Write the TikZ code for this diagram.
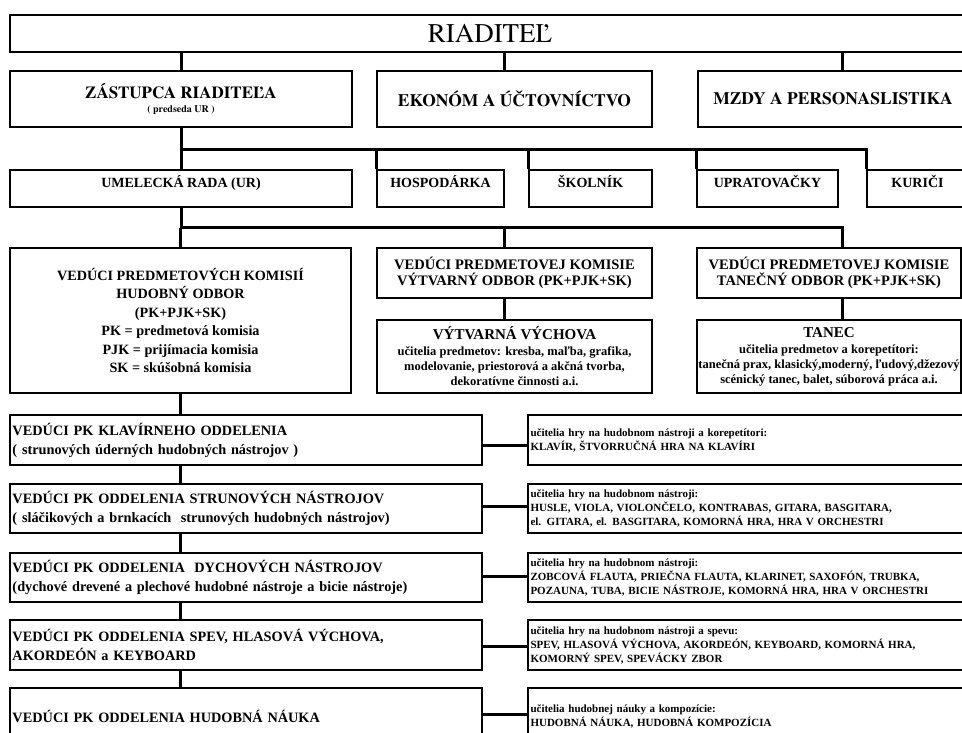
\documentclass[tikz,border=0pt]{standalone}
\usepackage{fontspec}
\setmainfont{Liberation Serif}
\newfontfamily\termes{texgyretermes}[Extension=.otf,UprightFont=*-regular,BoldFont=*-bold,ItalicFont=*-italic,BoldItalicFont=*-bolditalic]
\usetikzlibrary{calc}
\newcommand\szMid{\fontsize{14.2}{18.5}\selectfont}
\newcommand\szRow{\fontsize{14.3}{19}\selectfont}
\newcommand\szSmall{\fontsize{11}{14}\selectfont}
\newcommand\szTiny{\fontsize{10}{12}\selectfont}
\newcommand\szSub{\fontsize{12.5}{15}\selectfont}
\begin{document}
\begin{tikzpicture}[x=1pt,y=-1pt,
  box/.style={draw,line width=1.4pt,inner sep=0pt,font=\bfseries,align=center},
  boxtwo/.style={box,minimum height=37,font=\bfseries\fontsize{14}{16}\selectfont,text height=10pt,text depth=12.7pt},
  rowL/.style={box,minimum width=472,minimum height=#1,text width=467,align=left,font=\bfseries\szRow},
  rowR/.style={box,minimum width=447,minimum height=#1,text width=442,align=left,font=\bfseries\szSmall},
  conn/.style={line width=3pt}
]
\useasboundingbox (0,0) rectangle (962,733);
\clip (0,0) rectangle (962,733);

% level 1
\node[box,minimum width=960,minimum height=37,font=\termes\mdseries\fontsize{27}{30}\selectfont] (riad) at (490,33.5) {RIADITEĽ};

% level 2
\node[box,minimum width=342,minimum height=56,font=\termes\bfseries\fontsize{17}{14.5}\selectfont] (zast) at (181,99)
  {ZÁSTUPCA RIADITEĽA\\{\szTiny ( predseda UR )}};
\node[box,minimum width=275,minimum height=56,font=\termes\bfseries\fontsize{17.5}{20}\selectfont] (ekon) at (514.5,99) {EKONÓM A ÚČTOVNÍCTVO};
\node[box,minimum width=270,minimum height=56,font=\termes\bfseries\fontsize{17.5}{20}\selectfont] (mzdy) at (833,99) {MZDY A PERSONASLISTIKA};

% level 3
\node[boxtwo,minimum width=342] (ur) at (181,188.5) {UMELECKÁ RADA (UR)};
\node[boxtwo,minimum width=127] (hosp) at (440.5,188.5) {HOSPODÁRKA};
\node[boxtwo,minimum width=123] (skol) at (590.5,188.5) {ŠKOLNÍK};
\node[boxtwo,minimum width=141] (uprat) at (767.5,188.5) {UPRATOVAČKY};
\node[boxtwo,minimum width=101] (kur) at (917.5,188.5) {KURIČI};

% level 4
\node[box,minimum width=341,minimum height=145,font=\bfseries\szMid] (vhud) at (180.5,320.5)
  {VEDÚCI PREDMETOVÝCH KOMISIÍ\\HUDOBNÝ ODBOR\\(PK+PJK+SK)\\PK = predmetová komisia\\PJK = prijímacia komisia\\SK = skúšobná komisia};
\node[box,minimum width=275,minimum height=50,font=\bfseries\fontsize{14.5}{16.5}\selectfont] (vvyt) at (514.5,273)
  {VEDÚCI PREDMETOVEJ KOMISIE\\VÝTVARNÝ ODBOR (PK+PJK+SK)};
\node[box,minimum width=264,minimum height=50,font=\bfseries\fontsize{14.5}{16.5}\selectfont] (vtan) at (829,273)
  {VEDÚCI PREDMETOVEJ KOMISIE\\TANEČNÝ ODBOR (PK+PJK+SK)};
\node[box,minimum width=275,minimum height=73,font=\bfseries\szSub] (vytv) at (514.5,356.5)
  {{\fontsize{15}{15}\selectfont VÝTVARNÁ VÝCHOVA}\\[1pt]učitelia predmetov: kresba, maľba, grafika,\\modelovanie, priestorová a akčná tvorba,\\dekoratívne činnosti a.i.};
\node[box,minimum width=264,minimum height=73,font=\bfseries\szSub] (tanec) at (829,356.5)
  {{\fontsize{15}{15}\selectfont TANEC}\\[1pt]učitelia predmetov a korepetítori:\\\makebox[250pt][c]{tanečná prax, klasický,moderný, ľudový,džezový}\\scénický tanec, balet, súborová práca a.i.};

% departments
\node[rowL=50] (p1) at (246,440) {VEDÚCI PK KLAVÍRNEHO ODDELENIA\\( strunových úderných hudobných nástrojov )};
\node[rowL=49] (p2) at (246,508.5) {VEDÚCI PK ODDELENIA STRUNOVÝCH NÁSTROJOV\\( sláčikových a brnkacích\ \ strunových hudobných nástrojov)};
\node[rowL=49] (p3) at (246,577.5) {VEDÚCI PK ODDELENIA\ \ DYCHOVÝCH NÁSTROJOV\\(dychové drevené a plechové hudobné nástroje a bicie nástroje)};
\node[rowL=50] (p4) at (246,645) {VEDÚCI PK ODDELENIA SPEV, HLASOVÁ VÝCHOVA,\\AKORDEÓN a KEYBOARD};
\node[rowL=57] (p5) at (246,716.5) {VEDÚCI PK ODDELENIA HUDOBNÁ NÁUKA};

\node[rowR=50] (r1) at (751.5,440) {učitelia hry na hudobnom nástroji a korepetítori:\\KLAVÍR, ŠTVORRUČNÁ HRA NA KLAVÍRI};
\node[rowR=49] (r2) at (751.5,508.5) {učitelia hry na hudobnom nástroji:\\HUSLE, VIOLA, VIOLONČELO, KONTRABAS, GITARA, BASGITARA,\\el. GITARA, el. BASGITARA, KOMORNÁ HRA, HRA V ORCHESTRI};
\node[rowR=49] (r3) at (751.5,577.5) {učitelia hry na hudobnom nástroji:\\ZOBCOVÁ FLAUTA, PRIEČNA FLAUTA, KLARINET, SAXOFÓN, TRUBKA,\\POZAUNA, TUBA, BICIE NÁSTROJE, KOMORNÁ HRA, HRA V ORCHESTRI};
\node[rowR=50] (r4) at (751.5,645) {učitelia hry na hudobnom nástroji a spevu:\\SPEV, HLASOVÁ VÝCHOVA, AKORDEÓN, KEYBOARD, KOMORNÁ HRA,\\KOMORNÝ SPEV, SPEVÁCKY ZBOR};
\node[rowR=57] (r5) at (751.5,716.5) {učitelia hudobnej náuky a kompozície:\\HUDOBNÁ NÁUKA, HUDOBNÁ KOMPOZÍCIA};

% helper coordinates
\coordinate (bus1) at (0,150);
\coordinate (bus2) at (0,228);
\coordinate (de) at ($(ekon.north)+(-10,0)$);
\coordinate (dm) at ($(mzdy.north)+(9,0)$);
\coordinate (dv) at ($(vvyt.north)+(-10,0)$);
\coordinate (dvs) at ($(vvyt.south)+(-10,0)$);
\coordinate (dt) at ($(vtan.north)+(13,0)$);
\coordinate (dts) at ($(vtan.south)+(13,0)$);

% connectors
\draw[conn] (zast.north) -- (zast.north |- riad.south);
\draw[conn] (de) -- (de |- riad.south);
\draw[conn] (dm) -- (dm |- riad.south);

\draw[conn] (zast.south) -- (zast.south |- bus1) -- (kur.north west |- bus1) -- (kur.north west);
\draw[conn] (ur.north) -- (ur.north |- bus1);
\draw[conn] (hosp.north west) -- (hosp.north west |- bus1);
\draw[conn] (skol.north west) -- (skol.north west |- bus1);
\draw[conn] (uprat.north west) -- (uprat.north west |- bus1);

\draw[conn] (ur.south) -- (ur.south |- bus2) -- (dt |- bus2) -- (dt);
\draw[conn] (vhud.north) -- (vhud.north |- bus2);
\draw[conn] (dv) -- (dv |- bus2);
\draw[conn] (dvs) -- (dvs |- vytv.north);
\draw[conn] (dts) -- (dts |- tanec.north);

\draw[conn] (vhud.south) -- (vhud.south |- p1.north);
\draw[conn] (vhud.south |- p1.south) -- (vhud.south |- p2.north);
\draw[conn] (vhud.south |- p2.south) -- (vhud.south |- p3.north);
\draw[conn] (vhud.south |- p3.south) -- (vhud.south |- p4.north);
\draw[conn] (vhud.south |- p4.south) -- (vhud.south |- p5.north);

\draw[conn] ([yshift=-5pt]p1.east) -- ([yshift=-5pt]r1.west);
\draw[conn] ([yshift=2.5pt]p2.east) -- ([yshift=2.5pt]r2.west);
\draw[conn] ([yshift=1.5pt]p3.east) -- ([yshift=1.5pt]r3.west);
\draw[conn] ([yshift=-1pt]p4.east) -- ([yshift=-1pt]r4.west);
\draw[conn] ([yshift=2.5pt]p5.east) -- ([yshift=2.5pt]r5.west);
\end{tikzpicture}
\end{document}
